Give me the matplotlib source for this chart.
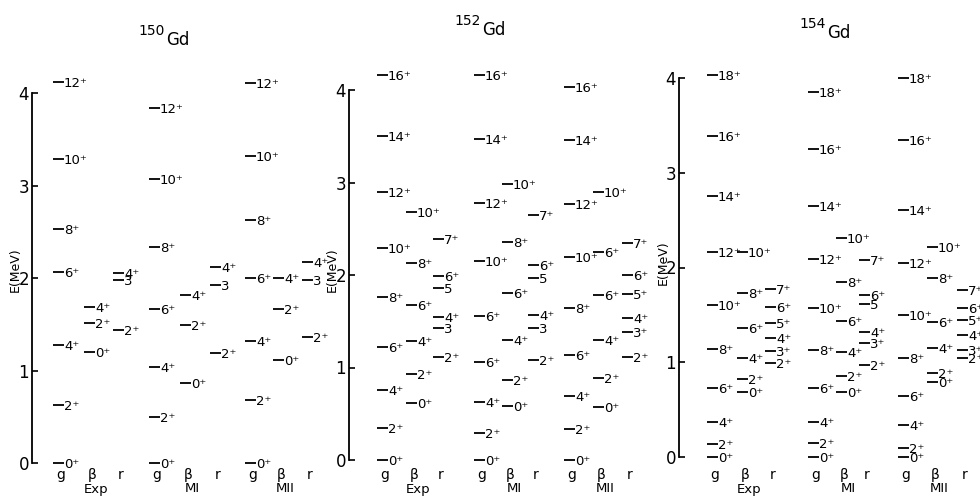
import matplotlib.pyplot as plt

# ---- level energies (MeV) read off the scheme, per band: g, beta, gamma
# 150Gd
gd150_exp_g = [0.0, 0.63, 1.28, 2.06, 2.53, 3.29, 4.12]
gd150_exp_b = [1.20, 1.51, 1.69]
gd150_exp_r = [1.44, 1.98, 2.05]
gd150_mi_g = [0.0, 0.50, 1.04, 1.66, 2.34, 3.07, 3.84]
gd150_mi_b = [0.86, 1.49, 1.82]
gd150_mi_r = [1.19, 1.92, 2.12]
gd150_mii_g = [0.0, 0.68, 1.32, 2.00, 2.63, 3.32, 4.11]
gd150_mii_b = [1.11, 1.66, 2.00]
gd150_mii_r = [1.36, 1.98, 2.17]

# 152Gd
gd152_exp_g = [0.0, 0.35, 0.76, 1.22, 1.76, 2.29, 2.90, 3.50, 4.16]
gd152_exp_b = [0.62, 0.93, 1.29, 1.68, 2.13, 2.68]
gd152_exp_r = [1.11, 1.43, 1.55, 1.86, 1.99, 2.39]
gd152_mi_g = [0.0, 0.29, 0.63, 1.06, 1.56, 2.15, 2.78, 3.47, 4.16]
gd152_mi_b = [0.58, 0.86, 1.30, 1.81, 2.36, 2.98]
gd152_mi_r = [1.08, 1.43, 1.57, 1.97, 2.11, 2.65]
gd152_mii_g = [0.0, 0.34, 0.69, 1.14, 1.64, 2.19, 2.77, 3.46, 4.03]
gd152_mii_b = [0.57, 0.89, 1.30, 1.78, 2.25, 2.90]
gd152_mii_r = [1.11, 1.38, 1.53, 1.80, 2.00, 2.35]

# 154Gd
gd154_exp_g = [0.0, 0.14, 0.37, 0.73, 1.14, 1.60, 2.16, 2.75, 3.39, 4.03]
gd154_exp_b = [0.69, 0.82, 1.05, 1.36, 1.73, 2.16]
gd154_exp_r = [0.99, 1.12, 1.26, 1.41, 1.58, 1.77]
gd154_mi_g = [0.0, 0.15, 0.37, 0.73, 1.13, 1.57, 2.09, 2.65, 3.25, 3.85]
gd154_mi_b = [0.69, 0.85, 1.11, 1.44, 1.85, 2.31]
gd154_mi_r = [0.97, 1.20, 1.32, 1.61, 1.71, 2.08]
gd154_mii_g = [0.0, 0.09, 0.34, 0.64, 1.05, 1.50, 2.05, 2.61, 3.35, 4.00]
gd154_mii_b = [0.79, 0.89, 1.15, 1.43, 1.89, 2.22]
gd154_mii_r = [1.05, 1.13, 1.29, 1.45, 1.57, 1.76]

# ---- spin labels as printed ("+" = parity mark)
g150_j = ["0+", "2+", "4+", "6+", "8+", "10+", "12+"]
b150_j = ["0+", "2+", "4+"]
r150_j = ["2+", "3", "4+"]
g152_j = ["0+", "2+", "4+", "6+", "8+", "10+", "12+", "14+", "16+"]
g152_mi_j = ["0+", "2+", "4+", "6+", "6+", "10+", "12+", "14+", "16+"]
b152_j = ["0+", "2+", "4+", "6+", "8+", "10+"]
b152_mii_j = ["0+", "2+", "4+", "6+", "6+", "10+"]
r152_j = ["2+", "3", "4+", "5", "6+", "7+"]
r152_mii_j = ["2+", "3+", "4+", "5+", "6+", "7+"]
g154_j = ["0+", "2+", "4+", "6+", "8+", "10+", "12+", "14+", "16+", "18+"]
b154_j = ["0+", "2+", "4+", "6+", "8+", "10+"]
r154_j = ["2+", "3+", "4+", "5+", "6+", "7+"]
r154_mi_j = ["2+", "3+", "4+", "5", "6+", "7+"]

isotopes = ["150", "152", "154"]
groups = ["Exp", "MI", "MII"]
bandnames = ["g", "\u03b2", "r"]

bands = [
    [(gd150_exp_g, g150_j), (gd150_exp_b, b150_j), (gd150_exp_r, r150_j),
     (gd150_mi_g, g150_j), (gd150_mi_b, b150_j), (gd150_mi_r, r150_j),
     (gd150_mii_g, g150_j), (gd150_mii_b, b150_j), (gd150_mii_r, r150_j)],
    [(gd152_exp_g, g152_j), (gd152_exp_b, b152_j), (gd152_exp_r, r152_j),
     (gd152_mi_g, g152_mi_j), (gd152_mi_b, b152_j), (gd152_mi_r, r152_j),
     (gd152_mii_g, g152_j), (gd152_mii_b, b152_mii_j), (gd152_mii_r, r152_mii_j)],
    [(gd154_exp_g, g154_j), (gd154_exp_b, b154_j), (gd154_exp_r, r154_j),
     (gd154_mi_g, g154_j), (gd154_mi_b, b154_j), (gd154_mi_r, r154_mi_j),
     (gd154_mii_g, g154_j), (gd154_mii_b, b154_j), (gd154_mii_r, r154_j)],
]

# ---- layout in pixels (figure is 980 x 499)
W, H = 980, 499
panels = [
    dict(ax_x=32, y0=463, y4=93, cols=[21, 52, 81, 117, 148, 178, 213, 241, 270],
         title=(166, 40), ylab=(15, 270)),
    dict(ax_x=349, y0=460, y4=90, cols=[28, 57, 84, 125, 153, 179, 215, 244, 273],
         title=(482, 30), ylab=(332, 270)),
    dict(ax_x=679, y0=457, y4=78, cols=[28, 58, 86, 129, 157, 180, 219, 248, 278],
         title=(827, 33), ylab=(663, 263)),
]
DASH = 11
PW = 300

plt.rcParams["font.family"] = ["DejaVu Sans"]
fig = plt.figure(figsize=(W / 100, H / 100), dpi=100)
fig.patch.set_facecolor("white")


def fx(px):
    return px / W


def fy(py):
    return 1 - py / H


for p, iso, plist in zip(panels, isotopes, bands):
    ax = fig.add_axes([fx(p["ax_x"]), fy(p["y0"]), PW / W, (p["y0"] - p["y4"]) / H])
    ax.set_xlim(0, PW)
    ax.set_ylim(0, 4)
    ax.patch.set_alpha(0)
    for s in ["top", "right", "bottom"]:
        ax.spines[s].set_visible(False)
    ax.spines["left"].set_linewidth(1.3)
    ax.set_xticks([])
    ax.set_yticks([0, 1, 2, 3, 4])
    ax.tick_params(axis="y", direction="in", length=4, width=1.2, labelsize=12, pad=2)

    for x, (en, js) in zip(p["cols"], plist):
        for e, j in zip(en, js):
            ax.plot([x, x + DASH], [e, e], color="k", lw=1.3, clip_on=False,
                    solid_capstyle="butt")
            lab = j.replace("+", "\u207a")
            ax.text(x + DASH, e, lab, fontsize=9.5, ha="left", va="center_baseline",
                    clip_on=False)

    # band and model labels under the columns
    for k, x in enumerate(p["cols"]):
        fig.text(fx(p["ax_x"] + x + 8), fy(475), bandnames[k % 3], fontsize=10,
                 ha="center", va="center")
    for k, grp in enumerate(groups):
        x = p["cols"][3 * k + 1]
        fig.text(fx(p["ax_x"] + x + 12), fy(489), grp, fontsize=9.5,
                 ha="center", va="center")

    tx, ty = p["title"]
    fig.text(fx(tx - 1), fy(ty - 9), iso, fontsize=10, ha="right", va="center")
    fig.text(fx(tx), fy(ty), "Gd", fontsize=12, ha="left", va="center")

    lx, ly = p["ylab"]
    fig.text(fx(lx), fy(ly), "E(MeV)", fontsize=9, rotation=90, ha="center", va="center")

fig.savefig("out.png", dpi=100, facecolor="white")
